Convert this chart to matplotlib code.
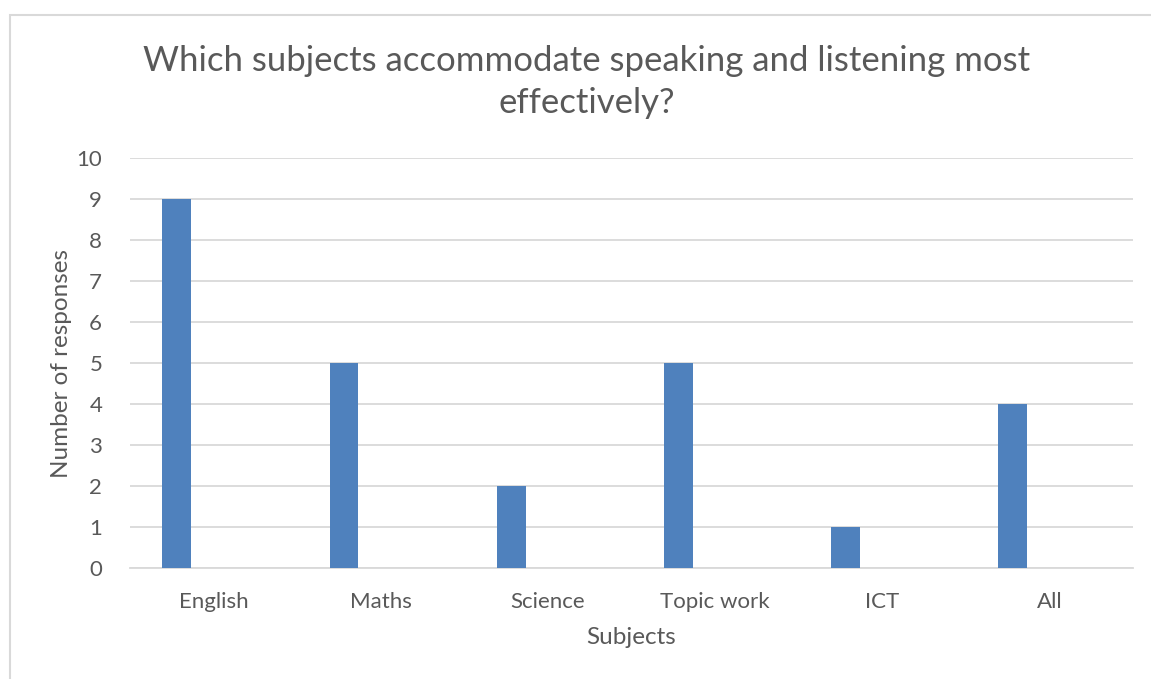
import numpy as np
import matplotlib.pyplot as plt
from matplotlib.patches import Rectangle

subjects = ['English', 'Maths', 'Science', 'Topic work', 'ICT', 'All']
responses = [9, 5, 2, 5, 1, 4]

plt.rcParams['font.family'] = ['Lato', 'DejaVu Sans']
text_col = '#595959'

fig = plt.figure(figsize=(11.51, 6.79), dpi=100)
W, H = 1151, 679

# chart frame like an Excel chart area
fig.patches.append(Rectangle((10 / W, -0.2), 1.2, 1.2 - 15 / H, transform=fig.transFigure,
                             fill=False, edgecolor='#D9D9D9', linewidth=1.5))

ax = fig.add_axes([130 / W, 1 - 568 / H, (1133 - 130) / W, (568 - 158) / H])

x = np.arange(len(subjects))
ax.bar(x - 0.22, responses, width=0.173, color='#4F81BD', zorder=3)

ax.set_xlim(-0.5, len(subjects) - 0.5)
ax.set_ylim(0, 10)
ax.set_yticks(range(0, 11))
ax.set_xticks(x)
ax.set_xticklabels(subjects)
ax.yaxis.grid(True, color='#D9D9D9', linewidth=1.3, zorder=0)
ax.tick_params(axis='both', length=0, labelsize=16, labelcolor=text_col)
ax.tick_params(axis='x', pad=17)
ax.tick_params(axis='y', pad=20)
for s in ['top', 'right', 'left']:
    ax.spines[s].set_visible(False)
ax.spines['bottom'].set_color('#D9D9D9')
ax.spines['bottom'].set_linewidth(1.3)

fig.text(587 / W, 1 - 82 / H, 'Which subjects accommodate speaking and listening most\neffectively?',
         ha='center', va='center', fontsize=25, color=text_col, linespacing=1.35)
fig.text(62 / W, 1 - 363 / H, 'Number of responses', rotation=90, ha='center', va='center',
         fontsize=17.5, color=text_col)
fig.text(631 / W, 1 - 637 / H, 'Subjects', ha='center', va='center', fontsize=17.5, color=text_col)

fig.savefig('out.png', dpi=100)
